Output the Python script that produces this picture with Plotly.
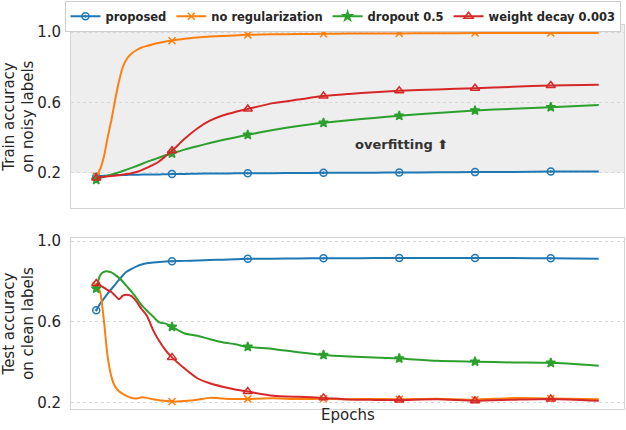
import plotly.graph_objects as go
from plotly.subplots import make_subplots

epochs = [0, 1.5, 3, 4.5, 6, 7.5, 9, 10.5, 12, 14, 16, 18, 20, 22.5, 25, 27.5, 30,
          35, 40, 45, 50, 55, 60, 70, 80, 90, 100, 110, 120, 135, 150, 165, 180, 199]
marker_epochs = [0, 30, 60, 90, 120, 150, 180]

names = ["proposed", "no regularization", "dropout 0.5", "weight decay 0.003"]

# train accuracy on noisy labels
train_proposed = [0.178, 0.182, 0.184, 0.185, 0.186, 0.187, 0.187, 0.188, 0.188, 0.189, 0.189,
                  0.190, 0.190, 0.191, 0.191, 0.192, 0.193, 0.194, 0.195, 0.196, 0.196, 0.197,
                  0.198, 0.198, 0.199, 0.200, 0.200, 0.201, 0.202, 0.203, 0.204, 0.205, 0.207, 0.208]
train_noreg = [0.180, 0.220, 0.290, 0.400, 0.500, 0.615, 0.720, 0.800, 0.845, 0.878, 0.898,
               0.912, 0.921, 0.931, 0.939, 0.946, 0.951, 0.962, 0.969, 0.974, 0.978, 0.981,
               0.984, 0.987, 0.989, 0.990, 0.991, 0.992, 0.992, 0.993, 0.994, 0.994, 0.995, 0.995]
train_dropout = [0.160, 0.172, 0.178, 0.184, 0.190, 0.196, 0.203, 0.210, 0.218, 0.228, 0.239,
                 0.250, 0.262, 0.274, 0.287, 0.300, 0.310, 0.332, 0.351, 0.369, 0.386, 0.401,
                 0.416, 0.443, 0.466, 0.484, 0.499, 0.512, 0.524, 0.540, 0.554, 0.564, 0.573, 0.585]
train_wd = [0.170, 0.175, 0.178, 0.180, 0.182, 0.184, 0.186, 0.190, 0.193, 0.198, 0.205,
            0.215, 0.228, 0.245, 0.266, 0.295, 0.325, 0.393, 0.452, 0.496, 0.526, 0.546,
            0.563, 0.596, 0.616, 0.636, 0.648, 0.658, 0.666, 0.674, 0.681, 0.689, 0.696, 0.700]

# test accuracy on clean labels
test_proposed = [0.658, 0.690, 0.715, 0.740, 0.763, 0.785, 0.808, 0.830, 0.848, 0.863, 0.875,
                 0.884, 0.890, 0.894, 0.897, 0.899, 0.900, 0.902, 0.904, 0.906, 0.908, 0.910,
                 0.912, 0.913, 0.914, 0.915, 0.915, 0.916, 0.916, 0.916, 0.916, 0.916, 0.915, 0.913]
test_noreg = [0.780, 0.750, 0.610, 0.430, 0.330, 0.280, 0.258, 0.245, 0.235, 0.224, 0.222,
              0.228, 0.225, 0.218, 0.213, 0.210, 0.207, 0.210, 0.216, 0.225, 0.222, 0.219,
              0.220, 0.223, 0.219, 0.221, 0.218, 0.220, 0.218, 0.221, 0.216, 0.224, 0.222, 0.218]
test_dropout = [0.765, 0.830, 0.848, 0.850, 0.845, 0.833, 0.818, 0.800, 0.778, 0.750, 0.717,
                0.683, 0.657, 0.627, 0.598, 0.592, 0.576, 0.543, 0.532, 0.515, 0.500, 0.490,
                0.477, 0.467, 0.450, 0.437, 0.430, 0.425, 0.420, 0.408, 0.404, 0.400, 0.398, 0.384]
test_wd = [0.790, 0.781, 0.770, 0.758, 0.748, 0.730, 0.712, 0.730, 0.735, 0.728, 0.700,
           0.663, 0.632, 0.560, 0.505, 0.460, 0.425, 0.370, 0.322, 0.297, 0.280, 0.266,
           0.256, 0.236, 0.230, 0.225, 0.217, 0.215, 0.214, 0.218, 0.211, 0.216, 0.220, 0.211]

colors = ["#1f77b4", "#ff7f0e", "#2ca02c", "#d62728"]
symbols = ["circle-open-dot", "x-thin-open", "star", "triangle-up-open"]
msizes = [7, 7, 7, 8]

FONT = "DejaVu Sans"
marker_idx = [epochs.index(e) for e in marker_epochs]

fig = make_subplots(rows=2, cols=1)

panels = [
    (1, [train_proposed, train_noreg, train_dropout, train_wd]),
    (2, [test_proposed, test_noreg, test_dropout, test_wd]),
]
for row, series in panels:
    for i, ys in enumerate(series):
        fig.add_trace(
            go.Scatter(
                x=epochs,
                y=ys,
                name=names[i],
                mode="lines+markers",
                line=dict(color=colors[i], width=2, shape="spline", smoothing=0.6),
                marker=dict(symbol=symbols[i], size=msizes[i], color=colors[i],
                            line=dict(color=colors[i], width=1.5)),
                selectedpoints=marker_idx,
                unselected=dict(marker=dict(opacity=0)),
                showlegend=(row == 1),
                legendgroup=names[i],
            ),
            row=row, col=1,
        )

# grey band marking the overfitting region
fig.add_shape(type="rect", xref="x domain", yref="y", x0=0, x1=1, y0=0.2, y1=1.04,
              fillcolor="#eeeeee", line_width=0, layer="below")

fig.add_annotation(x=121, y=0.36, xref="x", yref="y", text="<b>overfitting \u2b06</b>",
                   showarrow=False, font=dict(family=FONT, size=13, color="#333333"))
fig.add_annotation(x=0.5, y=-0.016, xref="paper", yref="paper", text="Epochs",
                   showarrow=False, yanchor="middle",
                   font=dict(family=FONT, size=15, color="#262626"))

axis_style = dict(showline=True, mirror=True, linecolor="#d4d4d4", linewidth=1,
                  ticks="", zeroline=False)
fig.update_xaxes(range=[-10, 209], showticklabels=False, showgrid=False, **axis_style)
fig.update_yaxes(tickvals=[0.2, 0.6, 1.0], tickformat=".1f", showgrid=True,
                 gridcolor="#d9d9d9", griddash="dot", gridwidth=1,
                 tickfont=dict(family=FONT, size=15, color="#262626"),
                 title_font=dict(family=FONT, size=15, color="#262626"),
                 ticklabelstandoff=6, **axis_style)

fig.update_layout(
    width=626, height=430,
    margin=dict(l=71, r=2, t=25, b=21, autoexpand=False),
    plot_bgcolor="white", paper_bgcolor="white",
    font=dict(family=FONT, color="#262626"),
    xaxis=dict(domain=[0, 1]),
    xaxis2=dict(domain=[0, 1]),
    yaxis=dict(domain=[0.5234, 1], range=[0.0, 1.04],
               title=dict(text="Train accuracy<br>on noisy labels", standoff=2)),
    yaxis2=dict(domain=[0, 0.4453], range=[0.17, 1.015],
                title=dict(text="Test accuracy<br>on clean labels", standoff=2)),
    legend=dict(orientation="h", x=-0.01, xanchor="left", y=1.063, yanchor="top",
                bordercolor="#cccccc", borderwidth=1, bgcolor="white",
                font=dict(family=FONT, size=11.5, color="#262626", weight="bold"),
                itemwidth=30, tracegroupgap=0),
    showlegend=True,
)

# drop the default page margin so the figure sits at the window's top-left corner
fig.write_html("out.html", config={"displayModeBar": False},
               post_script="document.body.style.margin='0';")
